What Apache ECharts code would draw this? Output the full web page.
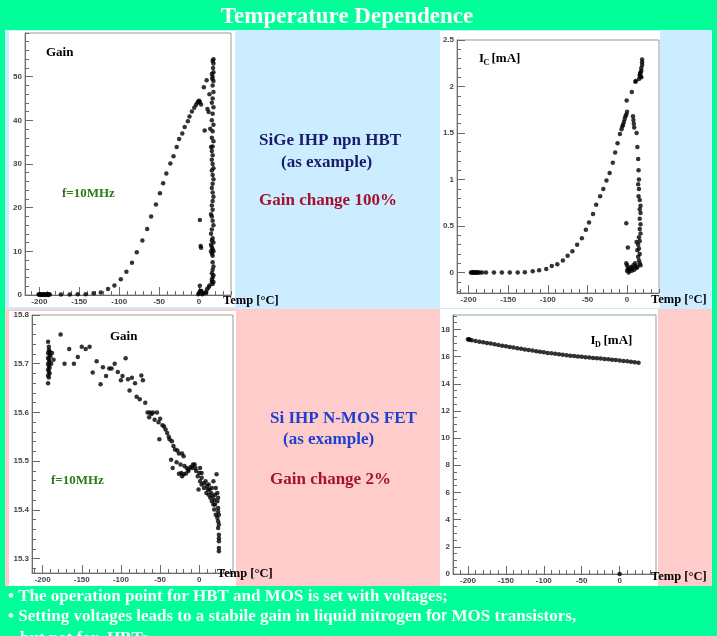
<!DOCTYPE html>
<html><head><meta charset="utf-8">
<script src="https://cdn.jsdelivr.net/npm/echarts@6/dist/echarts.min.js"></script>
<style>html,body{margin:0;padding:0;background:#00FF99;}#c{width:717px;height:636px;}</style>
</head><body><div id="c"></div>
<script>
// ---------- DATA ----------
const titleText = 'Temperature Dependence';
const xTickLabels = [-200, -150, -100, -50, 0];
const gainHbtTicks = [0, 10, 20, 30, 40, 50];
const icTicks = [0, 0.5, 1, 1.5, 2, 2.5];
const gainMosTicks = [15.3, 15.4, 15.5, 15.6, 15.7, 15.8];
const idTicks = [0, 2, 4, 6, 8, 10, 12, 14, 16, 18];

// SiGe HBT gain vs temperature [T, gain]
const hbtGain = [
 [-201,0.1],[-200,0.2],[-199,0],[-198,0.1],[-197,0.2],[-196,0],[-195,0.1],[-194,0.2],[-193,0],[-192,0.1],[-191,0.2],[-190,0.1],[-189,0],[-188,0.2],[-187,0.1],
 [-173,0.1],[-162,0.1],[-152,0.2],[-142,0.2],[-132,0.4],[-123,0.6],[-114,1.4],[-106,2.2],[-98,3.6],[-91,5.3],[-84,7.4],[-78,9.8],[-71,12.5],[-65,15.1],[-60,18],
 [-54,20.7],[-49,23.3],[-45,25.6],[-41,27.8],[-36,30.1],[-32,31.8],[-28,33.9],[-25,35.7],[-21,37],[-18,38.5],[-14,39.8],[-12,40.9],[-9,42],[-6,42.9],[-4,43.5],
 [-2,44],[0,44.5],[1,44.2],[2.5,43.6],[-1,44.3],
 [6,47.6],[7,37.7],[9.5,49.2],[10.5,42.6],[12,41.9],[13,46],[14,38.1],[15,33.9],[16,50.6],[17,53.6],[18,54],[18,53],[17.5,52],[18,51],[17,50],[16.5,49.5],
 [18,49],[17,48],[18,46.5],[17,45],[16,44],[18,43],[17,41.5],[16,40],[18,39],[17,37.5],[16,36],[18,35.2],[17,34],[16,33],[17,32],[16,31],[17,30],[18,29],
 [16,28.5],[17,27.5],[18,26.5],[17,25.5],[16,24.5],[17,23.5],[18,22.5],[17,21.5],[16,20.5],[17,19.5],[15,18.5],[16,18],[17,17],[18,16],[16,15],[15,14],
 [17,13],[16,12.5],[18,12],[15,11.5],[16,11],[17,10.5],[18,10],[16,9.5],[17,9],[15,10],[17,7.5],[18,6.5],[17,5.8],[16,5],[18,4.5],[17,4],[16,3.5],[18,3],[17,2.5],[16,3],
 [1,17.2],[2,11.2],[2.5,10.8],[1,2.1],[0,0.5],[1.5,1],[3,0.9],[5,0.4],[7.5,0.5],[10,1.3],[12,1.8],[13,2.2],[-1,0.2],[4,0.2],[9,0.6]
];

// SiGe HBT collector current vs temperature [T, Ic mA]
const hbtIc = [
 [-197,0],[-196,0],[-195,0],[-194,0],[-193,0],[-192,0],[-191,0],[-190,0],[-189,0],[-188,0],[-186,0],[-183,0],[-178,0],[-168,0],[-158,0],[-148,0],[-138,0],
 [-129,0.003],[-119,0.014],[-111,0.025],[-102,0.04],[-95,0.07],[-88,0.09],[-81,0.13],[-75,0.18],[-69,0.23],[-63,0.30],[-57,0.37],[-52,0.46],[-48,0.54],
 [-43,0.63],[-39,0.73],[-34,0.82],[-30,0.90],[-26,0.99],[-22,1.07],[-18,1.18],[-15,1.29],[-12,1.39],[-9,1.49],[-7,1.54],[-6,1.57],[-5,1.59],[-4,1.62],
 [-3,1.65],[-2,1.68],[-1,1.70],[0,1.73],[-0.5,1.85],[6,1.94],[10.5,2.05],[11,2.06],
 [7.5,1.68],[8,1.64],[8.5,1.6],[9,1.56],[12,1.5],[13,1.35],[14,1.22],[14.5,1.1],[15,1.0],[14,0.95],[15,0.9],[14.5,0.82],[16,0.78],[17,0.72],[16,0.68],
 [17,0.64],[16,0.58],[17,0.52],[16,0.47],[17,0.42],[15,0.38],[16,0.34],[12,0.33],[14,0.3],[15,0.26],[13,0.24],[16,0.2],[14,0.17],[15,0.13],[16,0.1],[17,0.08],[13,0.06],
 [15,2.08],[16,2.12],[17,2.15],[18,2.17],[18,2.2],[19,2.23],[19,2.26],[19,2.29],[18,2.1],[17,2.11],[16.5,2.14],
 [-1,0.53],[1,0.27],[-1,0.1],[0,0.08],[1,0.05],[2,0.03],[3,0.02],[4,0.04],[5,0.06],[6,0.02],[7,0.05],[8,0.08],[10,0.1],[11,0.07],[12,0.05],[9,0.03],[0,0.02],[2,0.0]
];

// Si N-MOS gain vs temperature [T, gain]
const mosGain = [
 [-193,15.745],[-192,15.728],[-193,15.722],[-191,15.718],[-193,15.712],[-192,15.708],[-191,15.704],[-193,15.700],[-192,15.696],[-191,15.692],[-193,15.688],
 [-192,15.684],[-191,15.680],[-193,15.676],[-192,15.672],[-193,15.660],[-190,15.715],[-189,15.70],[-191,15.725],[-192,15.735],
 [-177,15.76],[-188,15.722],[-186,15.708],[-172,15.70],[-166,15.73],[-160,15.70],[-155,15.714],[-150,15.735],[-145,15.73],[-140,15.735],[-136,15.682],
 [-131,15.705],[-126,15.658],[-123,15.693],[-119,15.675],[-115,15.69],[-112,15.69],[-108,15.70],[-104,15.683],[-100,15.666],[-98,15.675],[-94,15.711],
 [-91,15.668],[-89,15.645],[-86,15.671],[-82,15.66],[-80,15.632],[-76,15.627],[-74,15.676],[-72,15.666],[-69,15.62],[-66,15.6],[-64,15.59],[-63,15.6],
 [-61,15.597],[-59,15.6],[-57,15.585],[-54,15.6],[-52,15.58],[-50,15.587],[-47,15.574],[-45,15.571],[-51,15.545],[-43,15.565],[-41,15.558],[-39,15.55],
 [-38,15.545],[-35,15.541],[-33,15.531],[-31,15.524],[-28,15.522],[-26,15.516],[-22,15.516],[-20,15.51],[-36,15.503],[-34,15.486],[-29,15.498],[-24,15.493],
 [-19,15.49],[-16,15.486],[-14,15.483],[-9,15.486],[-6,15.493],
 [-4,15.48],[-2,15.469],[0,15.476],[1,15.459],[3,15.452],[-1,15.442],[3,15.466],[6,15.455],[6,15.445],[8,15.459],[9,15.435],[10,15.449],[11,15.442],[12,15.431],
 [12,15.452],[13,15.442],[14,15.425],[15,15.435],[16,15.418],[16,15.445],[17,15.428],[18,15.411],[18,15.459],[19,15.421],[19,15.401],[20,15.431],[20,15.411],
 [21,15.39],[21,15.445],[22,15.473],[23,15.418],[23,15.384],[23,15.435],[24,15.404],[24,15.377],[24,15.363],[25,15.349],[25,15.336],[25,15.322],[25,15.39],
 [24,15.425],[25,15.315],[25,15.342],[25,15.37],[24,15.397],[3,15.476],[1,15.486],[-5,15.486],[-8,15.493],[-11,15.488],[-14,15.48],[-17,15.475],[-20,15.473],
 [-23,15.476],[-22,15.469],[-26,15.474]
];

// Si N-MOS drain current vs temperature [T, Id mA]
const mosId = [
 [-200,17.27],[-199,17.26],[-198,17.25],[-195,17.2],[-190,17.15],[-185,17.1],[-180,17.05],[-175,17.0],[-170,16.96],[-165,16.9],[-160,16.85],[-155,16.8],
 [-150,16.76],[-145,16.71],[-140,16.66],[-135,16.62],[-130,16.57],[-125,16.52],[-120,16.48],[-115,16.44],[-110,16.4],[-105,16.36],[-100,16.32],[-95,16.27],
 [-90,16.24],[-85,16.2],[-80,16.17],[-75,16.13],[-70,16.1],[-65,16.07],[-60,16.04],[-55,16.01],[-50,15.98],[-45,15.95],[-40,15.93],[-35,15.9],[-30,15.88],
 [-25,15.85],[-20,15.82],[-15,15.8],[-10,15.77],[-5,15.74],[0,15.71],[5,15.68],[10,15.65],[15,15.62],[20,15.58],[25,15.55],[0,0]
];

// ---------- LAYOUT ----------
const AX = '#6a6a6a';
const LBL = {fontSize: 8, fontWeight: 'bold', fontFamily: 'Liberation Sans, Arial, sans-serif', color: '#444'};
function steps(a, b, s) { const r = []; for (let v = a; v <= b + s / 1000; v += s) r.push(+v.toFixed(4)); return r; }

const panels = [
  {grid: {left: 25, top: 33, width: 206, height: 262}, xMin: -218, xMax: 40, yMin: 0, yMax: 60,
   yMajor: gainHbtTicks, yMinor: steps(0, 60, 2), data: hbtGain},
  {grid: {left: 457, top: 40, width: 202, height: 253}, xMin: -214.6, xMax: 40.3, yMin: -0.219, yMax: 2.5,
   yMajor: icTicks, yMinor: steps(-0.2, 2.5, 0.1), data: hbtIc},
  {grid: {left: 32, top: 315, width: 201, height: 258}, xMin: -213.5, xMax: 43, yMin: 15.2706, yMax: 15.8,
   yMajor: gainMosTicks, yMinor: steps(15.28, 15.8, 0.02), data: mosGain},
  {grid: {left: 453, top: 315, width: 203, height: 259}, xMin: -219.8, xMax: 48, yMin: 0, yMax: 19.06,
   yMajor: idTicks, yMinor: steps(0, 19, 0.5), data: mosId}
];

const grids = [], xAxes = [], yAxes = [], series = [];
panels.forEach((p, i) => {
  grids.push(Object.assign({show: true, borderColor: '#9a9a9a', borderWidth: 1, backgroundColor: 'transparent'}, p.grid));
  const xMinor = steps(-220, 50, 10);
  xAxes.push({gridIndex: i, type: 'value', min: p.xMin, max: p.xMax, position: 'bottom',
    axisLine: {show: true, onZero: false, lineStyle: {color: AX}},
    axisTick: {show: true, inside: true, length: 8, customValues: xTickLabels, lineStyle: {color: AX}},
    axisLabel: Object.assign({show: true, customValues: xTickLabels, margin: 3}, LBL),
    splitLine: {show: false}});
  xAxes.push({gridIndex: i, type: 'value', min: p.xMin, max: p.xMax, position: 'bottom',
    axisLine: {show: false, onZero: false},
    axisTick: {show: true, inside: true, length: 4, customValues: xMinor.filter(v => v >= p.xMin && v <= p.xMax), lineStyle: {color: AX}},
    axisLabel: {show: false}, splitLine: {show: false}});
  yAxes.push({gridIndex: i, type: 'value', min: p.yMin, max: p.yMax, position: 'left',
    axisLine: {show: true, onZero: false, lineStyle: {color: AX}},
    axisTick: {show: true, inside: true, length: 8, customValues: p.yMajor, lineStyle: {color: AX}},
    axisLabel: Object.assign({show: true, customValues: p.yMajor, margin: 3}, LBL),
    splitLine: {show: false}});
  yAxes.push({gridIndex: i, type: 'value', min: p.yMin, max: p.yMax, position: 'left',
    axisLine: {show: false, onZero: false},
    axisTick: {show: true, inside: true, length: 4, customValues: p.yMinor.filter(v => v >= p.yMin && v <= p.yMax), lineStyle: {color: AX}},
    axisLabel: {show: false}, splitLine: {show: false}});
  series.push({type: 'scatter', xAxisIndex: 2 * i, yAxisIndex: 2 * i, data: p.data, symbolSize: 4.5,
    clip: false, itemStyle: {color: '#000'}, silent: true, animation: false});
});

// ---------- GRAPHIC (backgrounds and texts) ----------
const SERIF = '"Liberation Serif", "Times New Roman", serif';
function rect(x, y, w, h, fill) { return {type: 'rect', shape: {x, y, width: w, height: h}, style: {fill}, z: -10, silent: true}; }
function txt(text, x, y, size, fill, extra) {
  return Object.assign({type: 'text', x, y, z: 10, silent: true,
    style: Object.assign({text, font: 'bold ' + size + 'px ' + SERIF, fill, textVerticalAlign: 'middle', textAlign: 'left'}, extra || {})});
}
const graphic = [
  rect(5, 30, 707, 279, '#CCECFF'),
  rect(5, 309, 707, 277, '#FFCCCC'),
  rect(9, 31, 226, 276, '#ffffff'),
  rect(440, 31, 220, 277, '#ffffff'),
  rect(9, 311, 227, 275, '#ffffff'),
  rect(440, 309, 218, 277, '#ffffff'),
  txt(titleText, 347, 17, 23, '#ffffff', {textAlign: 'center'}),
  // in-plot labels
  txt('Gain', 46, 53, 13, '#000'),
  txt('f=10MHz', 62, 193.5, 13, '#2b7a17'),
  txt('I', 479, 59, 13, '#000'), txt('C', 483.5, 63, 8, '#000'), txt('[mA]', 491.5, 59, 13, '#000'),
  txt('Gain', 110, 336.5, 13, '#000'),
  txt('f=10MHz', 51, 481, 13, '#2b7a17'),
  txt('I', 590.5, 341, 13, '#000'), txt('D', 595, 345, 8, '#000'), txt('[mA]', 603.5, 341, 13, '#000'),
  txt('Temp [°C]', 223, 300.5, 12.5, '#000'),
  txt('Temp [°C]', 651, 299.5, 12.5, '#000'),
  txt('Temp [°C]', 217, 574, 12.5, '#000'),
  txt('Temp [°C]', 651, 576.5, 12.5, '#000'),
  // centre captions
  txt('SiGe IHP npn HBT', 259, 141, 17, '#1b1b6e'),
  txt('(as example)', 281, 163, 17, '#1b1b6e'),
  txt('Gain change 100%', 259, 201, 17, '#a3122e'),
  txt('Si IHP N-MOS FET', 270, 419, 17, '#1f40cf'),
  txt('(as example)', 283, 440, 17, '#1f40cf'),
  txt('Gain change 2%', 270, 480, 17, '#a3122e'),
  // bullet text
  txt('• The operation point for HBT and MOS is set with voltages;', 8, 597, 17, '#ffffff'),
  {type: 'text', x: 8, y: 617, z: 10, silent: true, style: {
    text: '{a|• Setting voltages leads to a stabile gain in liquid nitrogen }{b|for}{a| MOS transistors,}',
    textVerticalAlign: 'middle', fill: '#fff',
    rich: {a: {font: 'bold 17px ' + SERIF, fill: '#fff', color: '#fff'},
           b: {font: 'bold 16px "Liberation Sans", Arial, sans-serif', fill: '#fff', color: '#fff'}}}},
  txt('but not for  HBTs', 20, 639, 17, '#ffffff')
];

const chart = echarts.init(document.getElementById('c'), null, {renderer: 'canvas'});
chart.setOption({
  backgroundColor: '#00FF99',
  animation: false,
  grid: grids, xAxis: xAxes, yAxis: yAxes, series: series, graphic: graphic
});
</script></body></html>
